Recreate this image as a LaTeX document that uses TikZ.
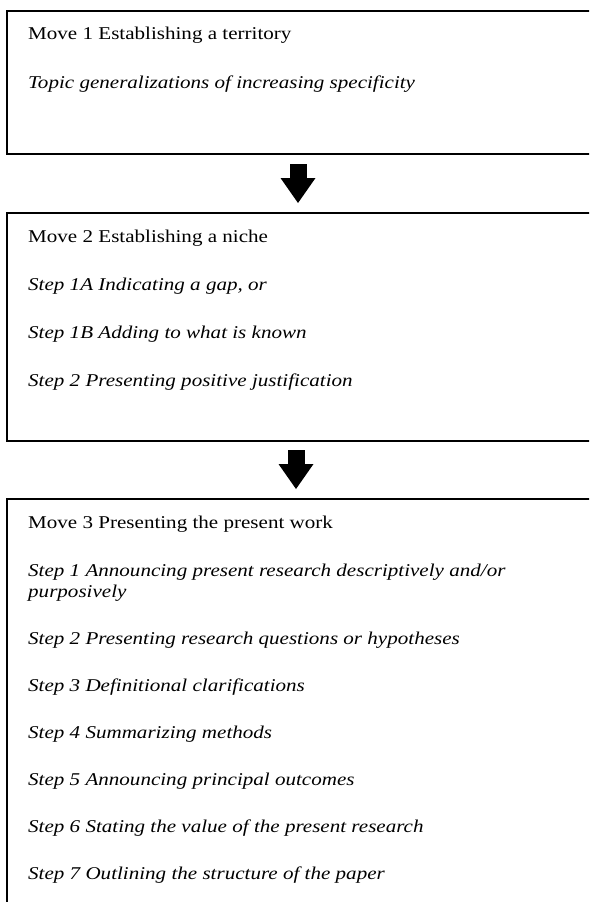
\documentclass[tikz,border=0pt]{standalone}
\usepackage{fontspec}
\setmainfont{Liberation Serif}[FakeStretch=1.17]
\usetikzlibrary{arrows.meta}
\begin{document}
\begin{tikzpicture}[x=1pt,y=1pt,
  movebox/.style={draw,line width=1.6pt},
  movetext/.style={anchor=base west,inner sep=0pt,font=\fontsize{18}{21}\selectfont},
  steptext/.style={movetext,font=\fontsize{18}{21}\selectfont\itshape},
  blockarrow/.style={line width=17pt,-{Triangle[width=35pt,length=25pt,line width=0pt]}}]
\useasboundingbox (0,0) rectangle (589,-902);
\clip (0,0) rectangle (589,-902);
\draw[movebox] (7,-11) rectangle (600,-154);
\draw[movebox] (7,-213) rectangle (600,-441);
\draw[movebox] (7,-499) rectangle (600,-930);
\node[movetext] (move1) at (28,-39) {Move 1 Establishing a territory};
\node[steptext] (topic) at (28,-88) {Topic generalizations of increasing specificity};
\node[movetext] (move2) at (28,-242) {Move 2 Establishing a niche};
\node[steptext] (step1a) at (28,-290) {Step 1A Indicating a gap, or};
\node[steptext] (step1b) at (28,-338) {Step 1B Adding to what is known};
\node[steptext] (step2j) at (28,-386) {Step 2 Presenting positive justification};
\node[movetext] (move3) at (28,-528) {Move 3 Presenting the present work};
\node[steptext] (s1) at (28,-576) {Step 1 Announcing present research descriptively and/or};
\node[steptext] (s1b) at (28,-597) {purposively};
\foreach \i/\t in {2/{Step 2 Presenting research questions or hypotheses},
  3/{Step 3 Definitional clarifications},
  4/{Step 4 Summarizing methods},
  5/{Step 5 Announcing principal outcomes},
  6/{Step 6 Stating the value of the present research},
  7/{Step 7 Outlining the structure of the paper}}
{\node[steptext] (s\i) at (28,{-644-47*(\i-2)}) {\t};}
\coordinate (a1s) at (298,-164);
\coordinate (a1e) at (298,-203);
\coordinate (a2s) at (296,-450);
\coordinate (a2e) at (296,-489);
\draw[blockarrow] (a1s) -- (a1e);
\draw[blockarrow] (a2s) -- (a2e);
\end{tikzpicture}
\end{document}
